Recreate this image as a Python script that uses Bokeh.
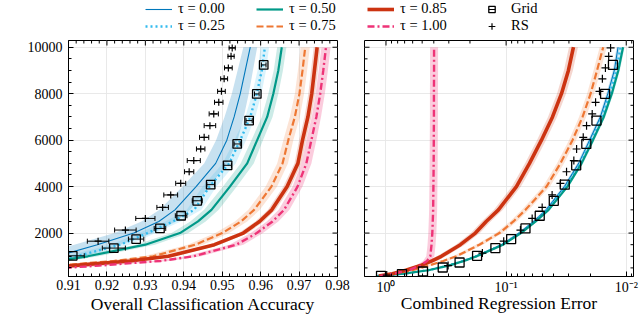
import math
from bokeh.plotting import figure
from bokeh.models import (Range1d, SingleIntervalTicker, FixedTicker, Grid,
                          NumeralTickFormatter, Label, Legend, LegendItem)
from bokeh.layouts import column, row
from bokeh.embed import file_html
from bokeh.resources import INLINE

NAN = float("nan")
FONT = "Liberation Serif"

# ---------------- data ----------------
tau_labels = ["τ = 0.00", "τ = 0.25", "τ = 0.50", "τ = 0.75", "τ = 0.85", "τ = 1.00"]

# left panel: N_train vs overall classification accuracy
n_curve = [500, 600, 800, 1000, 1500, 2000, 2500, 3000, 4000, 5000, 6000, 7000, 8000, 9000, 10000]
acc_t000 = [0.888, 0.893, 0.900, 0.907, 0.9175, 0.9270, 0.9335, 0.9377, 0.9432, 0.9483, 0.9512, 0.9531, 0.9547, 0.9560, 0.9573]
acc_t025 = [0.895, 0.900, 0.906, 0.912, 0.9235, 0.9305, 0.9372, 0.9427, 0.9467, 0.9518, 0.9547, 0.9573, 0.9590, 0.9603, 0.9611]
acc_t050 = [0.893, 0.898, 0.907, 0.915, 0.9300, 0.9390, 0.9437, 0.9472, 0.9520, 0.9565, 0.9591, 0.9617, 0.9633, 0.9646, 0.9655]
acc_t075 = [0.900, 0.907, 0.922, 0.932, 0.9430, 0.9500, 0.9549, 0.9583, 0.9628, 0.9657, 0.9672, 0.9689, 0.9701, 0.9709, 0.9716]
acc_t085 = [0.903, 0.911, 0.926, 0.936, 0.9480, 0.9555, 0.9597, 0.9629, 0.9669, 0.9697, 0.9709, 0.9723, 0.9733, 0.9740, 0.9747]
acc_t100 = [0.909, 0.918, 0.934, 0.9425, 0.9537, 0.9590, 0.9631, 0.9661, 0.9696, 0.9719, 0.9732, 0.9745, 0.9755, 0.9763, 0.9770]

sd_t000 = [0.008, 0.008, 0.0075, 0.007, 0.006, 0.005, 0.0045, 0.004, 0.0035, 0.003, 0.0028, 0.0025, 0.0022, 0.002, 0.0018]
sd_t025 = [0.004, 0.004, 0.0035, 0.003, 0.0025, 0.0022, 0.002, 0.0019, 0.0018, 0.0017, 0.0015, 0.0013, 0.0012, 0.0011, 0.0011]
sd_t050 = [0.0035, 0.0035, 0.003, 0.0028, 0.0025, 0.0022, 0.002, 0.0019, 0.0018, 0.0017, 0.0015, 0.0014, 0.0013, 0.0012, 0.0012]
sd_t075 = [0.003, 0.003, 0.0028, 0.0025, 0.002, 0.0018, 0.0016, 0.0015, 0.0015, 0.0014, 0.0013, 0.0013, 0.0012, 0.0012, 0.0012]
sd_t085 = [0.002, 0.002, 0.0018, 0.0016, 0.0014, 0.0012, 0.0011, 0.001, 0.001, 0.0009, 0.0009, 0.0009, 0.0009, 0.0009, 0.0009]
sd_t100 = [0.0025, 0.0025, 0.0022, 0.002, 0.0018, 0.0016, 0.0015, 0.0014, 0.0013, 0.0013, 0.0013, 0.0012, 0.0012, 0.0012, 0.0012]

# right panel: N_train vs combined regression error
n_right = [150, 250, 400, 600, 800, 1000, 1500, 2000, 2500, 3000, 4000, 5000, 6000, 7000, 8000, 9000, 10000]
err_t000 = [1.18, 0.718, 0.449, 0.307, 0.2287, 0.1806, 0.1092, 0.0781, 0.0589, 0.0465, 0.0327, 0.0249, 0.0202, 0.01643, 0.01423, 0.01257, 0.01170]
err_t025 = [1.18, 0.714, 0.446, 0.304, 0.2265, 0.1780, 0.1076, 0.0766, 0.0578, 0.0454, 0.0318, 0.0242, 0.01955, 0.01589, 0.01370, 0.01209, 0.01115]
err_t050 = [1.18, 0.711, 0.444, 0.301, 0.2243, 0.1755, 0.1061, 0.0751, 0.0567, 0.0443, 0.0309, 0.02354, 0.01892, 0.01538, 0.01318, 0.01164, 0.01063]
err_t075 = [1.073, 0.859, 0.6035, 0.4405, 0.333, 0.2597, 0.167, 0.1138, 0.0869, 0.069, 0.0461, 0.0353, 0.0280, 0.0231, 0.0198, 0.0175, 0.01556]
err_t085 = [1.148, 0.886, 0.684, 0.516, 0.4138, 0.346, 0.2403, 0.1803, 0.1465, 0.1159, 0.0821, 0.0639, 0.0508, 0.0411, 0.0346, 0.0303, 0.0275]
err_t100 = [1.115, 0.864, 0.648, 0.518, 0.455, 0.4276, 0.4177, 0.4115, 0.408, 0.405, 0.403, 0.401, 0.400, 0.399, 0.399, 0.398, 0.398]
err_spread = [1.03, 1.03, 1.03, 1.07, 1.09, 1.08]

# grid search points
n_grid = [160, 233, 345, 517, 733, 1021, 1353, 1741, 2200, 2745, 3390, 4084, 4917, 5836, 6841, 7990, 9239]
acc_grid = [NAN, NAN, NAN, NAN, NAN, 0.9111, 0.9218, 0.9276, 0.9338, 0.9393, 0.9435, 0.9470, 0.9514, 0.9539, 0.9570, 0.9590, 0.9608]
acc_grid_err = [NAN, NAN, NAN, NAN, NAN, 0.003, 0.003, 0.002, 0.0015, 0.0015, 0.0013, 0.001, 0.001, 0.0008, 0.0008, 0.0006, 0.0006]
err_grid = [1.10, 0.736, 0.492, 0.337, 0.244, 0.1745, 0.1228, 0.0908, 0.069, 0.0525, 0.0401, 0.0325, 0.0261, 0.0215, 0.0177, 0.0150, 0.0129]

# random search points
n_rs = [190, 600, 1140, 1650, 2130, 2630, 3105, 3640, 4140, 4640, 5120, 5620, 6120, 6625, 7130, 7630, 8100, 8640, 9110, 9610, 9970]
acc_rs = [NAN, NAN, NAN, 0.9177, 0.9248, 0.9300, 0.9345, 0.9366, 0.9392, 0.9414, 0.9426, 0.9444, 0.9453, 0.9468, 0.9478, 0.9491, 0.9498, 0.9505, 0.9516, 0.9523, 0.9526]
acc_rs_err = [NAN, NAN, NAN, 0.0028, 0.0028, 0.0025, 0.0015, 0.0018, 0.0013, 0.0012, 0.0017, 0.0011, 0.0012, 0.0015, 0.0012, 0.0011, 0.001, 0.0009, 0.001, 0.0008, 0.0008]
err_rs = [0.986, 0.304, 0.1576, 0.1047, 0.076, 0.0607, 0.0501, 0.0414, 0.0353, 0.0314, 0.0273, 0.0259, 0.0228, 0.0214, 0.0192, 0.0180, 0.0167, 0.0158, 0.0149, 0.0140, 0.0135]

# axis ranges and ticks
x1_lim = (0.91, 0.98)
x2_lim = (1.51, 0.0087)
y_lim = (130, 10290)
x1_major = [round(0.91 + 0.01 * i, 2) for i in range(8)]
x1_minor = [0.91 + 0.002 * i for i in range(36) if i % 5 != 0]
y_major = [2000, 4000, 6000, 8000, 10000]
y_minor = [500 * i for i in range(1, 21) if i % 4 != 0]
x2_major = [1, 0.1, 0.01]
x2_major_labels = ["10⁰", "10⁻¹", "10⁻²"]
x2_minor = [m * 10.0 ** e for e in (-3, -2, -1, 0) for m in range(2, 10)]

acc_curves = [acc_t000, acc_t025, acc_t050, acc_t075, acc_t085, acc_t100]
acc_bands = [sd_t000, sd_t025, sd_t050, sd_t075, sd_t085, sd_t100]
err_curves = [err_t000, err_t025, err_t050, err_t075, err_t085, err_t100]

# ---------------- styles ----------------
colors = ["#0077BB", "#33BBEE", "#009988", "#EE7733", "#CC3311", "#EE3377"]
line_widths = [1.1, 2.4, 2.2, 2.2, 3.6, 2.4]
line_dashes = ["solid", "2 3", "solid", "7 3", "solid", "7 3 2 3"]
band_alphas = [0.22, 0.18, 0.2, 0.2, 0.2, 0.25]
GRID_COLOR = "#e6e6e6"
TICK_FONT = "14px"
LABEL_FONT = "17.5px"


def style_axis(ax, label_standoff):
    ax.major_tick_in = 5
    ax.major_tick_out = 0
    ax.minor_tick_in = 3
    ax.minor_tick_out = 0
    ax.axis_line_color = "black"
    ax.major_tick_line_color = "black"
    ax.minor_tick_line_color = "black"
    ax.major_label_text_font = FONT
    ax.major_label_text_color = "black"
    ax.major_label_text_font_size = TICK_FONT
    ax.major_label_standoff = 3
    ax.axis_label_text_font = FONT
    ax.axis_label_text_font_size = LABEL_FONT
    ax.axis_label_text_font_style = "normal"
    ax.axis_label_text_color = "black"
    ax.axis_label_standoff = label_standoff


def mirror_ticks(p, xs, y, angle, length):
    p.ray(x=xs, y=[y] * len(xs), length=length, length_units="screen", angle=angle,
          line_color="black", line_width=1)


def mirror_ticks_y(p, x, ys, angle, length):
    p.ray(x=[x] * len(ys), y=ys, length=length, length_units="screen", angle=angle,
          line_color="black", line_width=1)


def errbars(p, xs, es, ns):
    pts = [(x, e, n) for x, e, n in zip(xs, es, ns) if not math.isnan(x)]
    x0 = [x - e for x, e, n in pts]
    x1 = [x + e for x, e, n in pts]
    y = [n for x, e, n in pts]
    p.segment(x0=x0, y0=y, x1=x1, y1=y, line_color="black", line_width=1)
    p.scatter(x=x0 + x1, y=y + y, marker="dash", angle=math.pi / 2, size=5,
              line_color="black", line_width=1)


H_ROW = 284

# ---------------- left panel ----------------
p1 = figure(width=350, height=H_ROW, x_range=Range1d(*x1_lim), y_range=Range1d(*y_lim),
            toolbar_location=None, output_backend="svg",
            min_border_left=68, min_border_right=13, min_border_top=6, min_border_bottom=42)
p1.outline_line_color = "black"

xt1 = SingleIntervalTicker(interval=0.01, num_minor_ticks=5)
yt = SingleIntervalTicker(interval=2000, num_minor_ticks=4)
p1.xaxis.ticker = xt1
p1.xaxis.formatter = NumeralTickFormatter(format="0.00")
p1.yaxis.ticker = yt
p1.xaxis.axis_label = "Overall Classification Accuracy"
style_axis(p1.xaxis[0], 1)
style_axis(p1.yaxis[0], 1)
p1.yaxis.major_label_standoff = 6
p1.xgrid.ticker = xt1
p1.ygrid.ticker = yt
p1.grid.grid_line_color = GRID_COLOR
p1.grid.grid_line_width = 0.9

for acc, sd, c, a in zip(acc_curves, acc_bands, colors, band_alphas):
    lo = [m - s for m, s in zip(acc, sd)]
    hi = [m + s for m, s in zip(acc, sd)]
    p1.harea(x1=lo, x2=hi, y=n_curve, fill_color=c, fill_alpha=a)
for acc, c, w, d in zip(acc_curves, colors, line_widths, line_dashes):
    p1.line(x=acc, y=n_curve, line_color=c, line_width=w, line_dash=d)

errbars(p1, acc_rs, acc_rs_err, n_rs)
errbars(p1, acc_grid, acc_grid_err, n_grid)
gx = [x for x in acc_grid if not math.isnan(x)]
gy = [n for x, n in zip(acc_grid, n_grid) if not math.isnan(x)]
p1.scatter(x=gx, y=gy, marker="square", size=8.5, fill_color=None, line_color="black", line_width=1.3)
rx = [x for x in acc_rs if not math.isnan(x)]
ry = [n for x, n in zip(acc_rs, n_rs) if not math.isnan(x)]
p1.scatter(x=rx, y=ry, marker="cross", size=7, line_color="black", line_width=1.2)

# mirrored (inward) ticks on top and right
mirror_ticks(p1, x1_major, y_lim[1], -math.pi / 2, 5)
mirror_ticks(p1, x1_minor, y_lim[1], -math.pi / 2, 3)
mirror_ticks_y(p1, x1_lim[1], y_major, math.pi, 5)
mirror_ticks_y(p1, x1_lim[1], y_minor, math.pi, 3)

p1.add_layout(Label(x=-49, y=108, x_units="screen", y_units="screen", text="N",
                    angle=math.pi / 2, text_font=FONT, text_font_style="italic",
                    text_font_size="16px", text_baseline="alphabetic", text_align="left",
                    text_color="black"))
p1.add_layout(Label(x=-46.5, y=120, x_units="screen", y_units="screen", text="train",
                    angle=math.pi / 2, text_font=FONT, text_font_size="11.5px",
                    text_baseline="alphabetic", text_align="left", text_color="black"))

# ---------------- right panel ----------------
p2 = figure(width=290, height=H_ROW, x_axis_type="log", x_range=Range1d(*x2_lim),
            y_range=Range1d(*y_lim), toolbar_location=None, output_backend="svg",
            y_axis_location=None,
            min_border_left=14, min_border_right=7, min_border_top=6, min_border_bottom=42)
p2.outline_line_color = "black"
xt2 = FixedTicker(ticks=x2_major, minor_ticks=x2_minor)
p2.xaxis.ticker = xt2
p2.xaxis.major_label_overrides = {t: s for t, s in zip(x2_major, x2_major_labels)}
p2.xaxis.axis_label = "Combined Regression Error"
style_axis(p2.xaxis[0], -5)
p2.xgrid.ticker = xt2
p2.xgrid.grid_line_color = GRID_COLOR
p2.xgrid.grid_line_width = 0.9
p2.ygrid.visible = False
p2.add_layout(Grid(dimension=1, ticker=yt, grid_line_color=GRID_COLOR, grid_line_width=0.9))

for err, f, c, a in zip(err_curves, err_spread, colors, band_alphas):
    lo = [e / f for e in err]
    hi = [e * f for e in err]
    p2.harea(x1=lo, x2=hi, y=n_right, fill_color=c, fill_alpha=a)
for err, c, w, d in zip(err_curves, colors, line_widths, line_dashes):
    p2.line(x=err, y=n_right, line_color=c, line_width=w, line_dash=d)
p2.scatter(x=err_rs, y=n_rs, marker="cross", size=8, line_color="black", line_width=1.2)
p2.scatter(x=err_grid, y=n_grid, marker="square", size=9, fill_color=None, line_color="black", line_width=1.3)

mirror_ticks(p2, x2_major, y_lim[1], -math.pi / 2, 5)
mirror_ticks(p2, x2_minor, y_lim[1], -math.pi / 2, 3)
mirror_ticks_y(p2, x2_lim[0], y_major, 0, 5)
mirror_ticks_y(p2, x2_lim[0], y_minor, 0, 3)
mirror_ticks_y(p2, x2_lim[1], y_major, math.pi, 5)
mirror_ticks_y(p2, x2_lim[1], y_minor, math.pi, 3)

# ---------------- legend strip ----------------
pl = figure(width=640, height=34, x_range=Range1d(0, 1), y_range=Range1d(0, 1),
            toolbar_location=None, output_backend="svg", min_border=0,
            x_axis_location=None, y_axis_location=None)
pl.outline_line_color = None
pl.grid.visible = False

# legend proxies (no visible data)
line_items = []
for lab, c, w, d in zip(tau_labels, colors, line_widths, line_dashes):
    r = pl.line(x=[NAN], y=[NAN], line_color=c, line_width=w, line_dash=d)
    line_items.append(LegendItem(label=lab, renderers=[r]))
g_bar = pl.scatter(x=[NAN], y=[NAN], marker="dash", line_color="black", line_width=1)
g_sq = pl.scatter(x=[NAN], y=[NAN], marker="square", fill_color=None, line_color="black", line_width=1.3)
r_bar = pl.scatter(x=[NAN], y=[NAN], marker="dash", line_color="black", line_width=1)
r_cr = pl.scatter(x=[NAN], y=[NAN], marker="cross", line_color="black", line_width=1.2)
grid_item = LegendItem(label="Grid", renderers=[g_bar, g_sq])
rs_item = LegendItem(label="RS", renderers=[r_bar, r_cr])

items = [line_items[0], line_items[2], line_items[4], grid_item,
         line_items[1], line_items[3], line_items[5], rs_item]
legend = Legend(items=items, orientation="horizontal", ncols=4, location=(145, 0),
                glyph_width=27, glyph_height=16, label_height=16, label_width=78,
                label_standoff=6, spacing=0, padding=0, margin=0,
                border_line_color=None, background_fill_alpha=0,
                label_text_font=FONT, label_text_font_size="14.5px", label_text_color="black")
pl.add_layout(legend, "center")

layout = column(pl, row(p1, p2))
open("out.html", "w").write(file_html(layout, INLINE, "plot"))
